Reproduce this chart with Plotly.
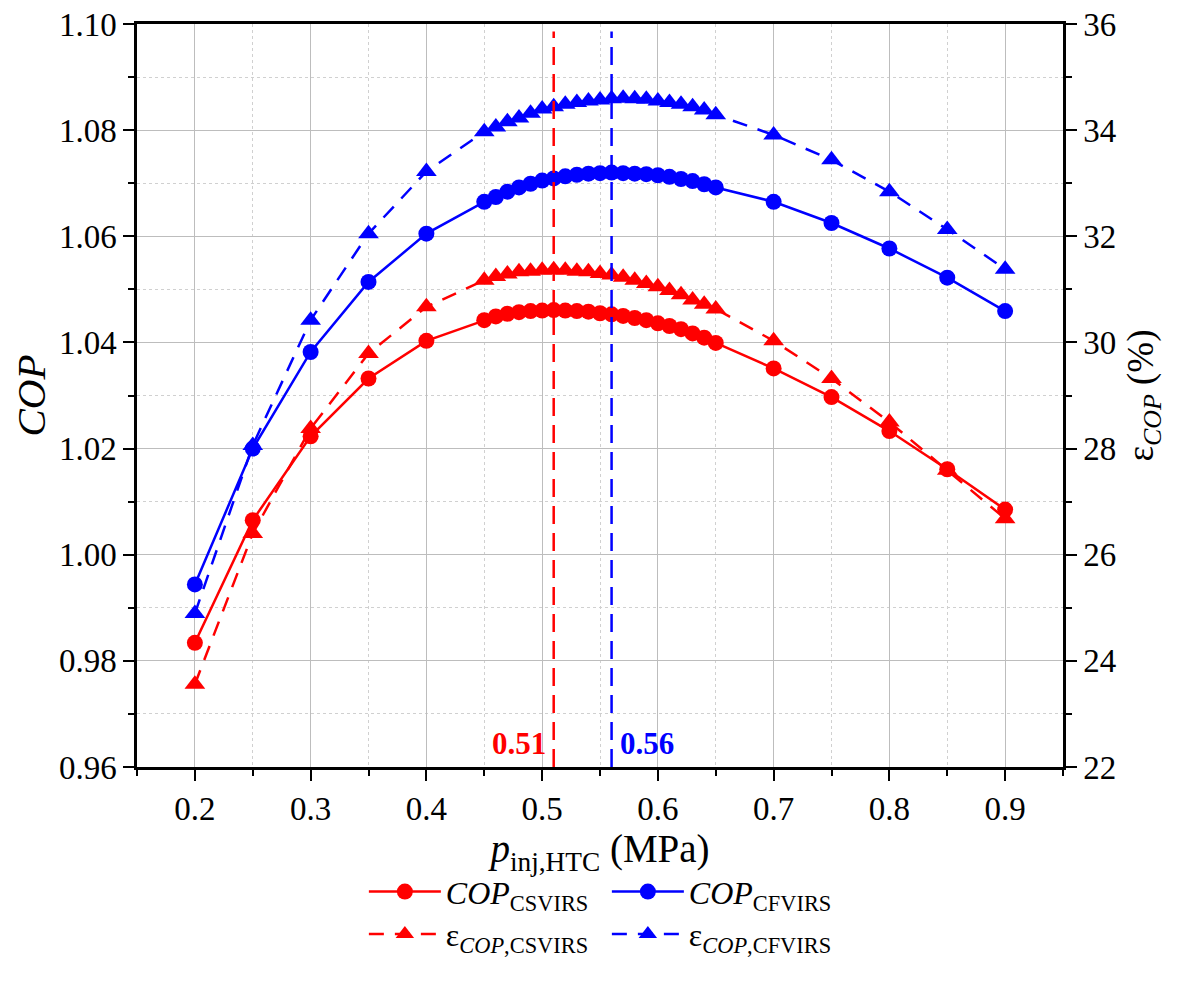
import plotly.graph_objects as go

# injection pressure of the HTC (MPa)
p_inj = [0.20, 0.25, 0.30, 0.35, 0.40,
         0.45, 0.46, 0.47, 0.48, 0.49, 0.50, 0.51, 0.52, 0.53, 0.54, 0.55,
         0.56, 0.57, 0.58, 0.59, 0.60, 0.61, 0.62, 0.63, 0.64, 0.65,
         0.70, 0.75, 0.80, 0.85, 0.90]

cop_csvirs = [0.9834, 1.0065, 1.0223, 1.0332, 1.0403,
              1.0442, 1.0449, 1.0454, 1.0457, 1.0459, 1.0460, 1.0461, 1.0460, 1.0459, 1.0458, 1.0455,
              1.0453, 1.0450, 1.0446, 1.0442, 1.0436, 1.0431, 1.0425, 1.0417, 1.0409, 1.0399,
              1.0351, 1.0297, 1.0233, 1.0161, 1.0085]

cop_cfvirs = [0.9944, 1.0200, 1.0382, 1.0514, 1.0605,
              1.0665, 1.0674, 1.0684, 1.0692, 1.0699, 1.0705, 1.0709, 1.0713, 1.0716, 1.0718, 1.0719,
              1.0720, 1.0719, 1.0718, 1.0717, 1.0715, 1.0712, 1.0708, 1.0704, 1.0698, 1.0692,
              1.0665, 1.0625, 1.0577, 1.0522, 1.0459]

eps_csvirs = [23.56, 26.40, 28.38, 29.79, 30.67,
              31.17, 31.24, 31.29, 31.33, 31.34, 31.36, 31.37, 31.36, 31.34, 31.33, 31.30,
              31.27, 31.23, 31.17, 31.11, 31.05, 30.98, 30.90, 30.80, 30.72, 30.63,
              30.03, 29.32, 28.50, 27.59, 26.68]

eps_cfvirs = [24.89, 28.06, 30.42, 32.05, 33.22,
              33.97, 34.06, 34.16, 34.23, 34.32, 34.40, 34.44, 34.49, 34.52, 34.55, 34.57,
              34.59, 34.60, 34.59, 34.58, 34.55, 34.52, 34.49, 34.44, 34.38, 34.29,
              33.91, 33.44, 32.84, 32.13, 31.38]

# optimum injection pressures
p_opt_cs = 0.51
p_opt_cf = 0.56

RED = "#ff0000"
BLUE = "#0000ff"
FONT = "Liberation Serif, Times New Roman, serif"
GRID = "#bdbdbd"
GRID_MINOR = "#d0d0d0"

fig = go.Figure()

fig.add_trace(go.Scatter(
    x=p_inj, y=cop_csvirs, name="<i>COP</i><sub>CSVIRS</sub>",
    mode="lines+markers", line=dict(color=RED, width=2.5),
    marker=dict(symbol="circle", size=16, color=RED), legend="legend"))
fig.add_trace(go.Scatter(
    x=p_inj, y=cop_cfvirs, name="<i>COP</i><sub>CFVIRS</sub>",
    mode="lines+markers", line=dict(color=BLUE, width=2.5),
    marker=dict(symbol="circle", size=16, color=BLUE), legend="legend"))
fig.add_trace(go.Scatter(
    x=p_inj, y=eps_csvirs, name="ε<sub><i>COP</i>,CSVIRS</sub>", yaxis="y2",
    mode="lines+markers", line=dict(color=RED, width=2.5, dash="15px,11px"),
    marker=dict(symbol="triangle-up", size=18, color=RED), legend="legend2"))
fig.add_trace(go.Scatter(
    x=p_inj, y=eps_cfvirs, name="ε<sub><i>COP</i>,CFVIRS</sub>", yaxis="y2",
    mode="lines+markers", line=dict(color=BLUE, width=2.5, dash="15px,11px"),
    marker=dict(symbol="triangle-up", size=18, color=BLUE), legend="legend2"))

# optimum markers
for xv, col in [(p_opt_cs, RED), (p_opt_cf, BLUE)]:
    fig.add_shape(type="line", xref="x", yref="paper", x0=xv, x1=xv, y0=0, y1=0.99,
                  line=dict(color=col, width=2.5, dash="18px,9px"))

fig.add_annotation(x=p_opt_cs, xref="x", y=0.031, yref="paper", text="<b>0.51</b>",
                   showarrow=False, xanchor="right", yanchor="middle", xshift=-6,
                   font=dict(family=FONT, size=31, color=RED))
fig.add_annotation(x=p_opt_cf, xref="x", y=0.031, yref="paper", text="<b>0.56</b>",
                   showarrow=False, xanchor="left", yanchor="middle", xshift=6,
                   font=dict(family=FONT, size=31, color=BLUE))

tickfont = dict(family=FONT, size=33, color="black")
minor_common = dict(ticks="outside", ticklen=6, tickwidth=2, tickcolor="black",
                    showgrid=True, gridcolor=GRID_MINOR, griddash="dot", gridwidth=1)

# the page adds an 8px offset, so the margins are shifted to compensate
fig.update_layout(
    template="none",
    width=1190, height=982,
    margin=dict(l=129, r=135, t=16, b=223, autoexpand=False),
    paper_bgcolor="white", plot_bgcolor="white",
    font=dict(family=FONT, color="black"),
    xaxis=dict(
        range=[0.15, 0.95], dtick=0.1, tick0=0.2, tickformat=".1f", automargin=False,
        showline=True, linecolor="black", linewidth=2.5, mirror=True,
        ticks="outside", ticklen=11, tickwidth=2, tickcolor="black",
        showgrid=True, gridcolor=GRID, gridwidth=1, zeroline=False,
        tickfont=tickfont, ticklabeloverflow="allow",
        minor=dict(dtick=0.05, tick0=0.15, **minor_common),
        title=dict(text="<i>p</i><sub>inj,HTC</sub> (MPa)",
                   font=dict(family=FONT, size=39), standoff=1),
    ),
    yaxis=dict(
        range=[0.96, 1.10], dtick=0.02, tickformat=".2f", automargin=False,
        showline=True, linecolor="black", linewidth=2.5,
        ticks="outside", ticklen=11, tickwidth=2, tickcolor="black",
        showgrid=True, gridcolor=GRID, gridwidth=1, zeroline=False,
        tickfont=tickfont, ticklabeloverflow="allow",
        minor=dict(dtick=0.01, **minor_common),
        title=dict(text="<i>COP</i>", font=dict(family=FONT, size=41), standoff=8),
    ),
    yaxis2=dict(
        range=[22, 36], dtick=2, overlaying="y", side="right", automargin=False,
        showline=True, linecolor="black", linewidth=2.5,
        ticks="outside", ticklen=11, tickwidth=2, tickcolor="black",
        showgrid=False, zeroline=False,
        tickfont=tickfont, ticklabeloverflow="allow",
        minor=dict(dtick=1, ticks="outside", ticklen=6, tickwidth=2,
                   tickcolor="black", showgrid=False),
        title=dict(text="ε<sub><i>COP</i></sub> (%)", font=dict(family=FONT, size=37),
                   standoff=12),
    ),
    legend=dict(
        orientation="h", x=0.245, xanchor="left", y=-0.168, yanchor="middle",
        itemwidth=72, entrywidth=156, entrywidthmode="pixels",
        font=dict(family=FONT, size=32), bgcolor="rgba(0,0,0,0)", tracegroupgap=0,
    ),
    legend2=dict(
        orientation="h", x=0.245, xanchor="left", y=-0.225, yanchor="middle",
        itemwidth=72, entrywidth=156, entrywidthmode="pixels",
        font=dict(family=FONT, size=32), bgcolor="rgba(0,0,0,0)", tracegroupgap=0,
    ),
)

fig.write_html("out.html")
